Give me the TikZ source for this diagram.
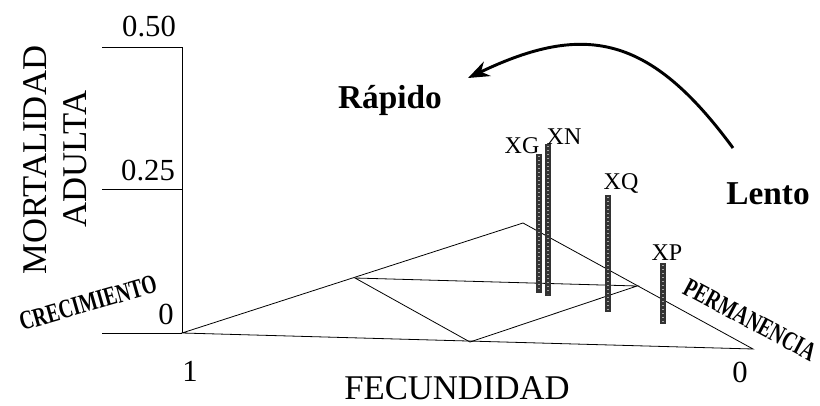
\documentclass[tikz,border=0pt]{standalone}
\usepackage{fontspec}
\setmainfont{Liberation Serif}
\usetikzlibrary{arrows.meta}
\begin{document}
\begin{tikzpicture}[x=0.75pt,y=-0.75pt,
    lbl/.style={inner sep=0pt, font=\fontsize{26}{26}\selectfont},
    num/.style={inner sep=0pt, font=\fontsize{23}{23}\selectfont},
    sp/.style={inner sep=0pt, font=\fontsize{18}{18}\selectfont},
    slant/.style={inner sep=0pt, font=\fontsize{20}{20}\selectfont\bfseries},
    bar/.style={line width=4.5pt, draw=black!80},
    thin/.style={line width=0.6pt}]
    \useasboundingbox (0,0) rectangle (820,406);
    % axes
    \coordinate (top) at (182,47);
    \coordinate (mid) at (182,189);
    \coordinate (org) at (182,333);
    \draw[thin] (102,47) -- (top) -- (org);
    \draw[thin] (102,189) -- (mid);
    \draw[thin] (102,333) -- (org);
    % outer triangle
    \coordinate (apex) at (523,223);
    \coordinate (right) at (753,349);
    \draw[thin] (org) -- (apex) -- (right) -- cycle;
    % inner triangle
    \coordinate (ml) at (355,278);
    \coordinate (mr) at (637,286);
    \coordinate (mb) at (470,342);
    \draw[thin] (ml) -- (mr) -- (mb) -- cycle;
    % bars
    \draw[bar] (539,154) -- (539,293);
    \draw[bar] (548,144) -- (548,296);
    \draw[bar] (608,195) -- (608,312);
    \draw[bar] (663,263) -- (663,324);
    \foreach \x/\a/\b in {539/154/293, 548/144/296, 608/195/312, 663/263/324}
      \draw[line width=1.2pt, gray!70, dash pattern=on 1pt off 2pt] (\x,\a+2) -- (\x,\b-2);
    % labels
    \node[lbl, rotate=90] (mort) at (35,160) {MORTALIDAD};
    \node[lbl, rotate=90] (adul) at (75,159) {ADULTA};
    \node[num] (n50) at (149,27) {0.50};
    \node[num] (n25) at (148,171) {0.25};
    \node[num] (n0) at (166,314) {0};
    \node[num] (n1) at (190,371) {1};
    \node[num] (nr) at (740,372) {0};
    \node[lbl] (fec) at (457,388) {FECUNDIDAD};
    \node[lbl, font=\fontsize{25}{25}\selectfont\bfseries] (rap) at (390,100) {Rápido};
    \node[lbl, font=\fontsize{25}{25}\selectfont\bfseries] (len) at (768,194) {Lento};
    \node[sp] (xg) at (522,146) {XG};
    \node[sp] (xn) at (564,137) {XN};
    \node[sp] (xq) at (621,184) {XQ};
    \node[sp] (xp) at (667,253) {XP};
    \node[slant, rotate=16] (crec) at (88,303) {\scalebox{0.72}[1]{CRECIMIENTO}};
    \node[slant, rotate=-28] (perm) at (750,320) {\scalebox{0.72}[1]{PERMANENCIA}};
    % arrow
    \coordinate (from) at (733,148);
    \coordinate (to) at (468,78);
    \draw[line width=2.2pt,-{Stealth[length=16pt,width=12pt]}] (from) .. controls (650,35) and (585,22) .. (to);
\end{tikzpicture}
\end{document}
